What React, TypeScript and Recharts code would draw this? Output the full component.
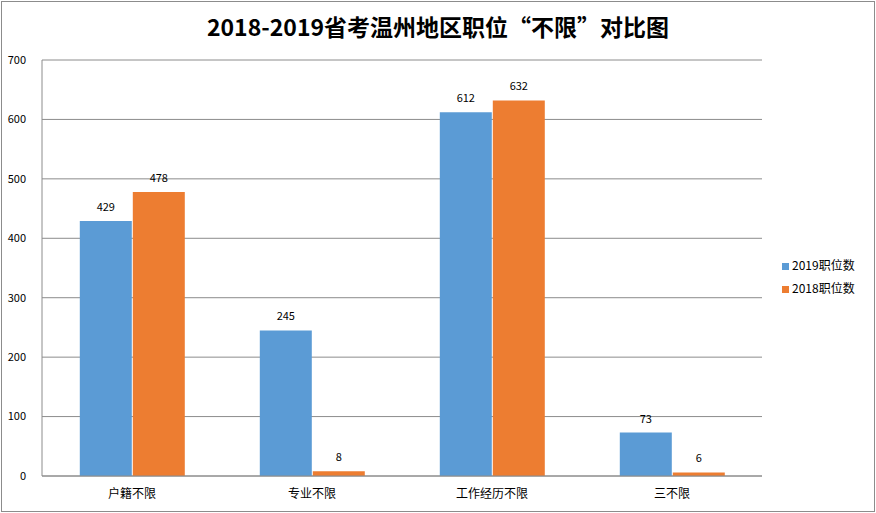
import { BarChart, Bar, XAxis, YAxis, CartesianGrid, LabelList } from 'recharts'

const categories = ['户籍不限', '专业不限', '工作经历不限', '三不限']
const values2019 = [429, 245, 612, 73]
const values2018 = [478, 8, 632, 6]
const yTicks = [0, 100, 200, 300, 400, 500, 600, 700]

const series = [
  { key: 'y2019', name: '2019职位数', color: '#5B9BD5' },
  { key: 'y2018', name: '2018职位数', color: '#ED7D31' },
]

const data = categories.map((name, i) => ({
  name,
  y2019: values2019[i],
  y2018: values2018[i],
}))

const FONT = '"Noto Sans CJK SC", "Noto Sans", sans-serif'

export default function App() {
  return (
    <div
      style={{
        position: 'fixed',
        left: 0,
        top: 0,
        width: 876,
        height: 513,
        background: '#fff',
        fontFamily: FONT,
      }}
    >
      <div
        style={{
          position: 'absolute',
          left: 1,
          top: 1,
          width: 872,
          height: 509,
          border: '1px solid #8c8c8c',
        }}
      />
      <div
        style={{
          position: 'absolute',
          left: 0,
          top: 9,
          width: 876,
          textAlign: 'center',
          fontSize: 23,
          fontWeight: 'bold',
          color: '#000',
        }}
      >
        2018-2019省考温州地区职位“不限”对比图
      </div>
      <BarChart
        width={876}
        height={513}
        data={data}
        margin={{ top: 60, right: 114, bottom: 7, left: 0 }}
        barCategoryGap="21%"
        barGap={1}
        style={{ position: 'absolute', left: 0, top: 0 }}
      >
        <CartesianGrid vertical={false} stroke="#8c8c8c" strokeWidth={1} />
        <XAxis
          dataKey="name"
          height={30}
          tickLine={false}
          axisLine={{ stroke: '#8c8c8c' }}
          tick={{ fill: '#000', fontSize: 12, fontFamily: FONT }}
          tickMargin={7}
        />
        <YAxis
          domain={[0, 700]}
          ticks={yTicks}
          width={42}
          tickLine={false}
          axisLine={{ stroke: '#8c8c8c' }}
          tick={{ fill: '#000', fontSize: 11, fontFamily: FONT }}
          tickMargin={10}
        />
        {series.map((s) => (
          <Bar key={s.key} dataKey={s.key} name={s.name} fill={s.color} isAnimationActive={false}>
            <LabelList dataKey={s.key} position="top" offset={10} style={{ fill: '#000', fontSize: 11, fontFamily: FONT }} />
          </Bar>
        ))}
      </BarChart>
      <div style={{ position: 'absolute', left: 782, top: 253 }}>
        {series.map((s) => (
          <div key={s.key} style={{ display: 'flex', alignItems: 'center', height: 23, fontSize: 12, color: '#000' }}>
            <span style={{ width: 7, height: 7, background: s.color, marginRight: 3, marginTop: 3 }} />
            {s.name}
          </div>
        ))}
      </div>
    </div>
  )
}
